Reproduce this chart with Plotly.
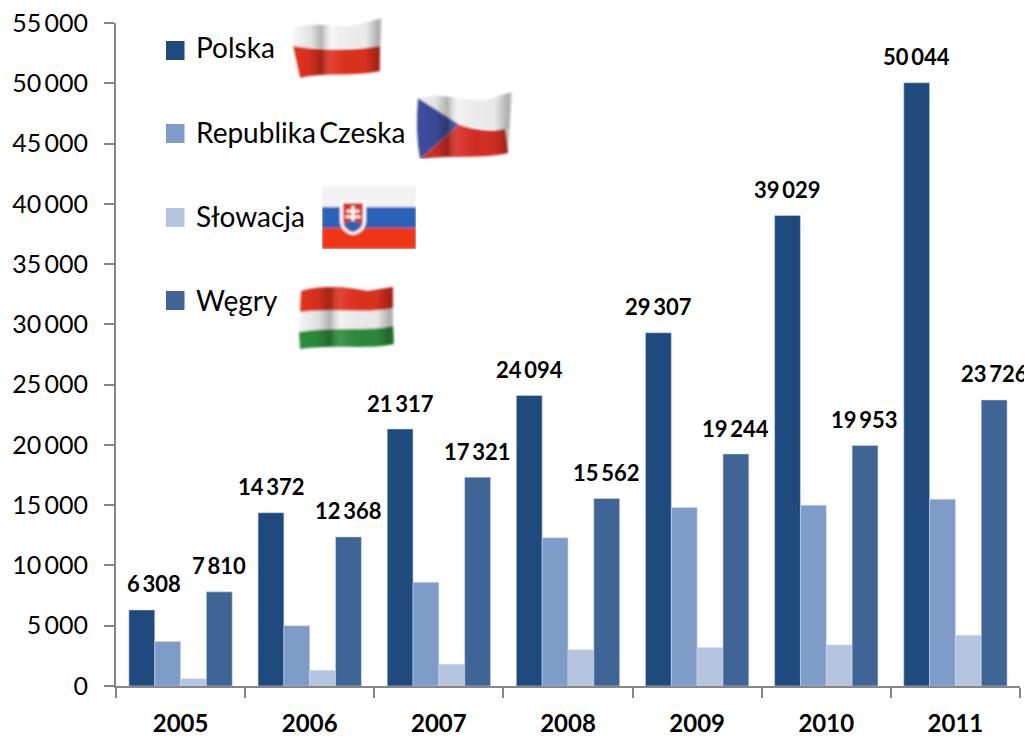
import base64
import plotly.graph_objects as go

years = ["2005", "2006", "2007", "2008", "2009", "2010", "2011"]
polska = [6308, 14372, 21317, 24094, 29307, 39029, 50044]
czechy = [3700, 5000, 8600, 12300, 14800, 15000, 15500]
slowacja = [600, 1300, 1800, 3000, 3200, 3400, 4200]
wegry = [7810, 12368, 17321, 15562, 19244, 19953, 23726]
polska_labels = ["6\u2009308", "14\u2009372", "21\u2009317", "24\u2009094", "29\u2009307", "39\u2009029", "50\u2009044"]
wegry_labels = ["7\u2009810", "12\u2009368", "17\u2009321", "15\u2009562", "19\u2009244", "19\u2009953", "23\u2009726"]
polska_xshift = [12, 0, 0, 0, 0, 0, 0]
tick_vals = list(range(0, 55001, 5000))
tick_text = ["0", "5\u2009000", "10\u2009000", "15\u2009000", "20\u2009000", "25\u2009000", "30\u2009000",
             "35\u2009000", "40\u2009000", "45\u2009000", "50\u2009000", "55\u2009000"]
legend_names = ["Polska", "Republika\u2009Czeska", "Słowacja", "Węgry"]
colors = ["#1F4A7E", "#7F9CC8", "#B5C4DF", "#3E6596"]
FONT = "Lato, Carlito, Calibri, sans-serif"

L, R, T, B = 116, 1020, 23, 686
PW, PH = R - L, B - T
PAGE = 8  # the browser's default body margin


def px(x):
    return (x - L) / PW


def py(y):
    return (B - y) / PH


SHADE = '''<linearGradient id="s" x1="0" x2="1" y1="0" y2="0">
<stop offset="0" stop-color="#000" stop-opacity="0"/>
<stop offset=".2" stop-color="#000" stop-opacity=".08"/>
<stop offset=".32" stop-color="#000" stop-opacity=".28"/>
<stop offset=".44" stop-color="#fff" stop-opacity=".08"/>
<stop offset=".62" stop-color="#000" stop-opacity=".04"/>
<stop offset=".82" stop-color="#000" stop-opacity=".05"/>
<stop offset=".96" stop-color="#000" stop-opacity=".3"/>
<stop offset="1" stop-color="#000" stop-opacity=".15"/>
</linearGradient><filter id="b"><feGaussianBlur stdDeviation="0.8"/></filter>'''


def uri(w, h, body):
    svg = (f'<svg xmlns="http://www.w3.org/2000/svg" width="{w}" height="{h}" viewBox="0 0 {w} {h}">'
           f'<defs>{SHADE}</defs><g filter="url(#b)">{body}</g></svg>')
    return "data:image/svg+xml;base64," + base64.b64encode(svg.encode("utf-8")).decode()


def shaded(path):
    return f'<path d="{path}" fill="url(#s)"/>'


poland = ('<path d="M5 12 C30 4 50 14 70 8 L92 2 L90 32 L5 32Z" fill="#f6f6f6"/>'
          '<path d="M5 30 C30 34 55 36 90 30 L90 55 C65 61 30 56 12 62Z" fill="#e2321f"/>'
          + shaded('M5 12 C30 4 50 14 70 8 L92 2 L90 55 C65 61 30 56 12 62Z'))
czech = ('<path d="M3 6 C30 0 55 10 70 8 L97 0 L95 38 L44 34Z" fill="#f5f5f5"/>'
         '<path d="M44 32 C60 38 80 40 90 36 L93 60 C70 66 30 62 5 66Z" fill="#d93025"/>'
         '<path d="M3 6 L44 32 L5 66 Q0 40 3 6Z" fill="#3d4f9f"/>'
         + shaded('M3 6 C30 0 55 10 70 8 L97 0 L93 60 C70 66 30 62 5 66 Q0 40 3 6Z'))
slovak = ('<rect width="94" height="21" fill="#f2f2f2"/>'
          '<rect y="21" width="94" height="21" fill="#2a62b8"/>'
          '<rect y="42" width="94" height="21" fill="#ee3412"/>'
          '<path d="M18 15 H44 V34 Q44 46 31 49 Q18 46 18 34Z" fill="#fff"/>'
          '<path d="M21 17 H41 V34 Q41 44 31 46 Q21 44 21 34Z" fill="#d8392b"/>'
          '<path d="M29.5 20 h3 v4 h5 v2.5 h-5 v3 h6 v2.5 h-6 v6 h-3 v-6 h-6 v-2.5 h6 v-3 h-5 v-2.5 h5Z" fill="#fff"/>'
          '<path d="M22 38 Q31 32 40 38 Q37 44 31 46 Q25 44 22 38Z" fill="#2a62b8"/>')
hungary = ('<path d="M4 9 C30 2 55 6 70 9 L96 5 L96 27 C70 32 40 26 3 31Z" fill="#e2321f"/>'
           '<path d="M3 30 C40 26 70 32 96 26 L96 45 C70 50 40 44 2 51Z" fill="#f3f3f3"/>'
           '<path d="M2 50 C40 44 70 50 96 44 L97 62 C70 68 40 62 3 67Z" fill="#2c8f3c"/>'
           + shaded('M4 9 C30 2 55 6 70 9 L96 5 L97 62 C70 68 40 62 3 67Z'))

flags = [(uri(98, 65, poland), 288, 16, 100, 65),
         (uri(100, 66, czech), 415, 92, 100, 67),
         (uri(94, 63, slovak), 322, 186, 94, 63),
         (uri(98, 70, hungary), 297, 282, 98, 70)]

fig = go.Figure()
for name, vals, col in zip(legend_names, [polska, czechy, slowacja, wegry], colors):
    fig.add_trace(go.Bar(name=name, x=years, y=vals, marker=dict(color=col, line=dict(color="rgba(205,218,238,0.55)", width=1))))

annotations = []
for i, y in enumerate(years):
    annotations.append(dict(x=i, y=polska[i], text=polska_labels[i], showarrow=False, xref="x", yref="y",
                            xshift=polska_xshift[i] - 38.7, yshift=26,
                            font=dict(family=FONT, size=22, color="#000000", weight="bold")))
    annotations.append(dict(x=i, y=wegry[i], text=wegry_labels[i], showarrow=False, xref="x", yref="y",
                            xshift=38.7, yshift=26,
                            font=dict(family=FONT, size=22, color="#000000", weight="bold")))

shapes = []
for name, col, cy, ty in zip(legend_names, colors, [50.5, 133.5, 217.5, 300.5], [47, 132, 216, 300]):
    shapes.append(dict(type="rect", xref="paper", yref="paper", x0=px(166), x1=px(184.5),
                       y0=py(cy + 9.5), y1=py(cy - 9.5), fillcolor=col, line=dict(width=0)))
    annotations.append(dict(xref="paper", yref="paper", x=px(194), y=py(ty), text=name, showarrow=False,
                            xanchor="left", yanchor="middle",
                            font=dict(family=FONT, size=28, color="#000000")))

images = [dict(source=s, xref="paper", yref="paper", x=px(x), y=py(y), sizex=w / PW, sizey=h / PH,
               xanchor="left", yanchor="top", sizing="stretch", layer="above")
          for s, x, y, w, h in flags]

fig.update_layout(
    template="none",
    width=1032 - PAGE, height=738 - PAGE, autosize=False,
    margin=dict(l=L - PAGE, r=1032 - R, t=T - PAGE, b=738 - B, pad=0),
    paper_bgcolor="white", plot_bgcolor="white",
    barmode="group", bargap=0.2, bargroupgap=0, showlegend=False,
    annotations=annotations, shapes=shapes, images=images,
    font=dict(family=FONT, color="#000000"),
    xaxis=dict(type="category", range=[-0.5, 6.5], tickson="boundaries", ticks="outside", ticklen=10,
               tickwidth=2, tickcolor="#868686", showline=True, linecolor="#868686", linewidth=2,
               showgrid=False, zeroline=False, ticklabelstandoff=15, automargin=False,
               ticklabeloverflow="allow",
               tickfont=dict(family=FONT, size=24, color="#000000", weight="bold")),
    yaxis=dict(range=[0, 55000], tickvals=tick_vals, ticktext=tick_text, ticks="outside", ticklen=10,
               tickwidth=2, tickcolor="#868686", showline=True, linecolor="#868686", linewidth=2,
               showgrid=False, zeroline=False, ticklabelstandoff=11, automargin=False,
               ticklabeloverflow="allow",
               tickfont=dict(family=FONT, size=25, color="#000000")),
)
fig.write_html("out.html")
